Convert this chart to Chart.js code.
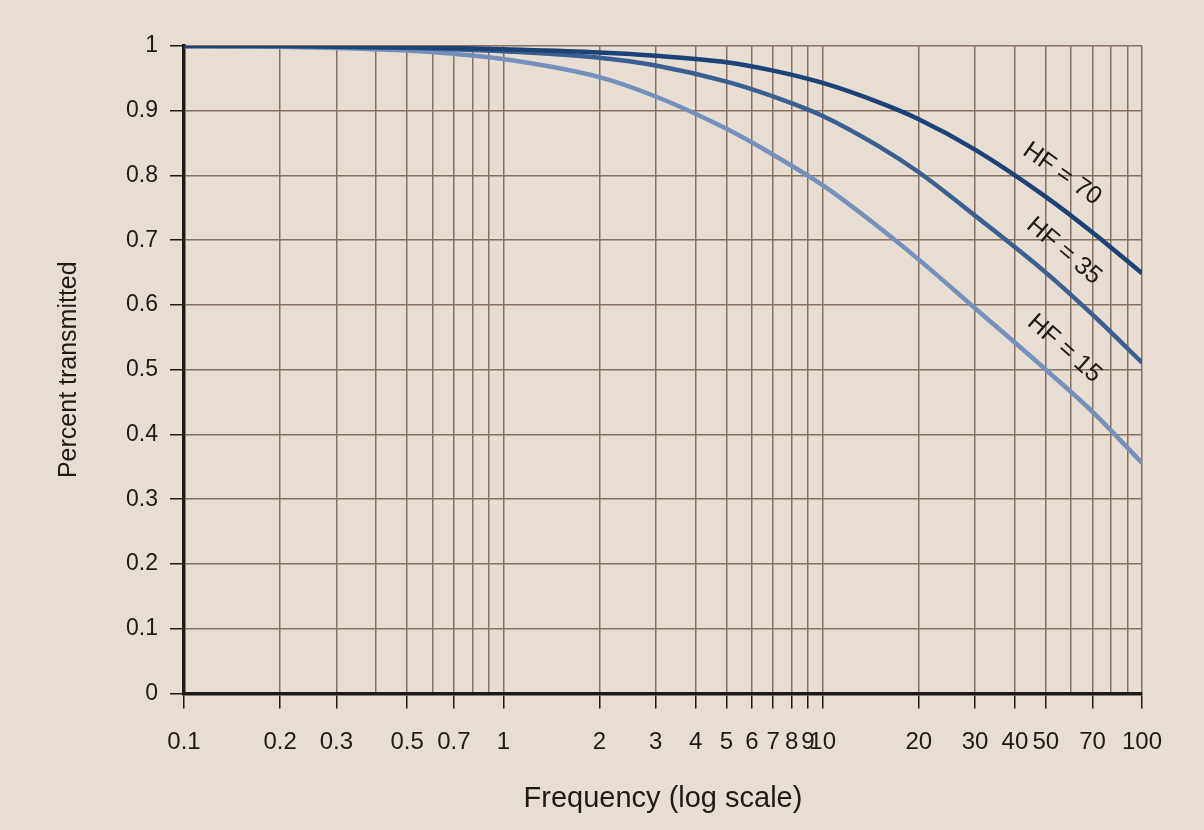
<!DOCTYPE html>
<html>
<head>
<meta charset="utf-8">
<title>Percent transmitted vs frequency</title>
<script src="https://cdn.jsdelivr.net/npm/chart.js@4.4.1/dist/chart.umd.min.js"></script>
<style>
    html, body { margin: 0; padding: 0; background: #e8ddd3; }
    #wrap { width: 1204px; height: 830px; position: relative; }
</style>
</head>
<body>
<div id="wrap"><canvas id="filterChart"></canvas></div>
<script>
const frequencies = [0.1, 0.2, 0.3, 0.5, 0.7, 1, 2, 3, 5, 7, 10, 15, 20, 30, 50, 70, 100];
const hf70 = [1, 1, 0.999, 0.998, 0.997, 0.995, 0.99, 0.985, 0.975, 0.962, 0.943, 0.913, 0.887, 0.84, 0.767, 0.712, 0.649];
const hf35 = [1, 1, 0.999, 0.997, 0.995, 0.992, 0.982, 0.97, 0.945, 0.922, 0.892, 0.845, 0.805, 0.738, 0.65, 0.585, 0.511];
const hf15 = [1, 0.999, 0.997, 0.993, 0.988, 0.98, 0.952, 0.922, 0.872, 0.832, 0.785, 0.72, 0.67, 0.595, 0.5, 0.435, 0.356];
const seriesNames = ["HF = 70", "HF = 35", "HF = 15"];
const seriesColors = ["#1d4275", "#3b5f90", "#7590bb"];

// tick labels and grid lines on the log axis
const xTickLabels = [0.1, 0.2, 0.3, 0.5, 0.7, 1, 2, 3, 4, 5, 6, 7, 8, 9, 10, 20, 30, 40, 50, 70, 100];
const xGridValues = [0.1, 0.2, 0.3, 0.4, 0.5, 0.6, 0.7, 0.8, 0.9,
                     1, 2, 3, 4, 5, 6, 7, 8, 9,
                     10, 20, 30, 40, 50, 60, 70, 80, 90, 100];
const labelFrequency = 50;

const axisFont = "'Liberation Sans', Arial, sans-serif";
const ink = "#1e1a18";
const gridColor = "#857062";

function points(values) {
    return frequencies.map((f, i) => ({ x: f, y: values[i] }));
}

// rotated "HF = .." labels sitting just above each curve
const curveLabels = {
    id: "curveLabels",
    afterDatasetsDraw(chart) {
        const ctx = chart.ctx;
        const idx = frequencies.indexOf(labelFrequency);
        chart.data.datasets.forEach((ds, i) => {
            const pts = chart.getDatasetMeta(i).data;
            const a = pts[idx - 1], b = pts[idx + 1], p = pts[idx];
            const angle = Math.atan2(b.y - a.y, b.x - a.x);
            const off = 28;
            const cx = p.x + Math.sin(angle) * off;
            const cy = p.y - Math.cos(angle) * off;
            ctx.save();
            ctx.translate(cx, cy);
            ctx.rotate(angle);
            ctx.font = "25px " + axisFont;
            ctx.fillStyle = ink;
            ctx.textAlign = "center";
            ctx.textBaseline = "middle";
            ctx.fillText(ds.label, 0, 0);
            ctx.restore();
        });
    }
};

const ctx = document.getElementById("filterChart").getContext("2d");
new Chart(ctx, {
    type: "line",
    data: {
        datasets: [
            { label: seriesNames[0], data: points(hf70), borderColor: seriesColors[0] },
            { label: seriesNames[1], data: points(hf35), borderColor: seriesColors[1] },
            { label: seriesNames[2], data: points(hf15), borderColor: seriesColors[2] }
        ]
    },
    options: {
        responsive: true,
        maintainAspectRatio: false,
        animation: false,
        layout: { padding: { left: 54, right: 62, top: 46, bottom: 14 } },
        elements: {
            point: { radius: 0 },
            line: { borderWidth: 4.5, tension: 0.4, cubicInterpolationMode: "monotone", fill: false }
        },
        plugins: {
            legend: { display: false },
            tooltip: { enabled: false }
        },
        scales: {
            x: {
                type: "logarithmic",
                min: 0.1,
                max: 100,
                afterBuildTicks: scale => {
                    scale.ticks = xGridValues.map(v => ({ value: v }));
                },
                ticks: {
                    autoSkip: false,
                    maxRotation: 0,
                    minRotation: 0,
                    padding: 20,
                    color: ink,
                    font: { family: axisFont, size: 24 },
                    callback: value => xTickLabels.includes(value) ? String(value) : ""
                },
                grid: {
                    color: gridColor,
                    lineWidth: 1.5,
                    tickLength: 15,
                    tickWidth: 1.5,
                    tickColor: c => (c.tick && xTickLabels.includes(c.tick.value)) ? ink : "rgba(0,0,0,0)"
                },
                border: { display: true, color: ink, width: 3.5 },
                title: {
                    display: true,
                    text: "Frequency (log scale)",
                    color: ink,
                    font: { family: axisFont, size: 29 },
                    padding: { top: 4, bottom: 0 }
                }
            },
            y: {
                min: 0,
                max: 1,
                ticks: {
                    stepSize: 0.1,
                    padding: 12,
                    color: ink,
                    font: { family: axisFont, size: 23 },
                    callback: value => String(Number(value.toFixed(1)))
                },
                grid: {
                    color: gridColor,
                    lineWidth: 1.5,
                    tickLength: 14,
                    tickWidth: 1.5,
                    tickColor: ink
                },
                border: { display: true, color: ink, width: 3.5 },
                title: {
                    display: true,
                    text: "Percent transmitted",
                    color: ink,
                    font: { family: axisFont, size: 25 },
                    padding: { top: 0, bottom: 30 }
                }
            }
        }
    },
    plugins: [curveLabels]
});
</script>
</body>
</html>
